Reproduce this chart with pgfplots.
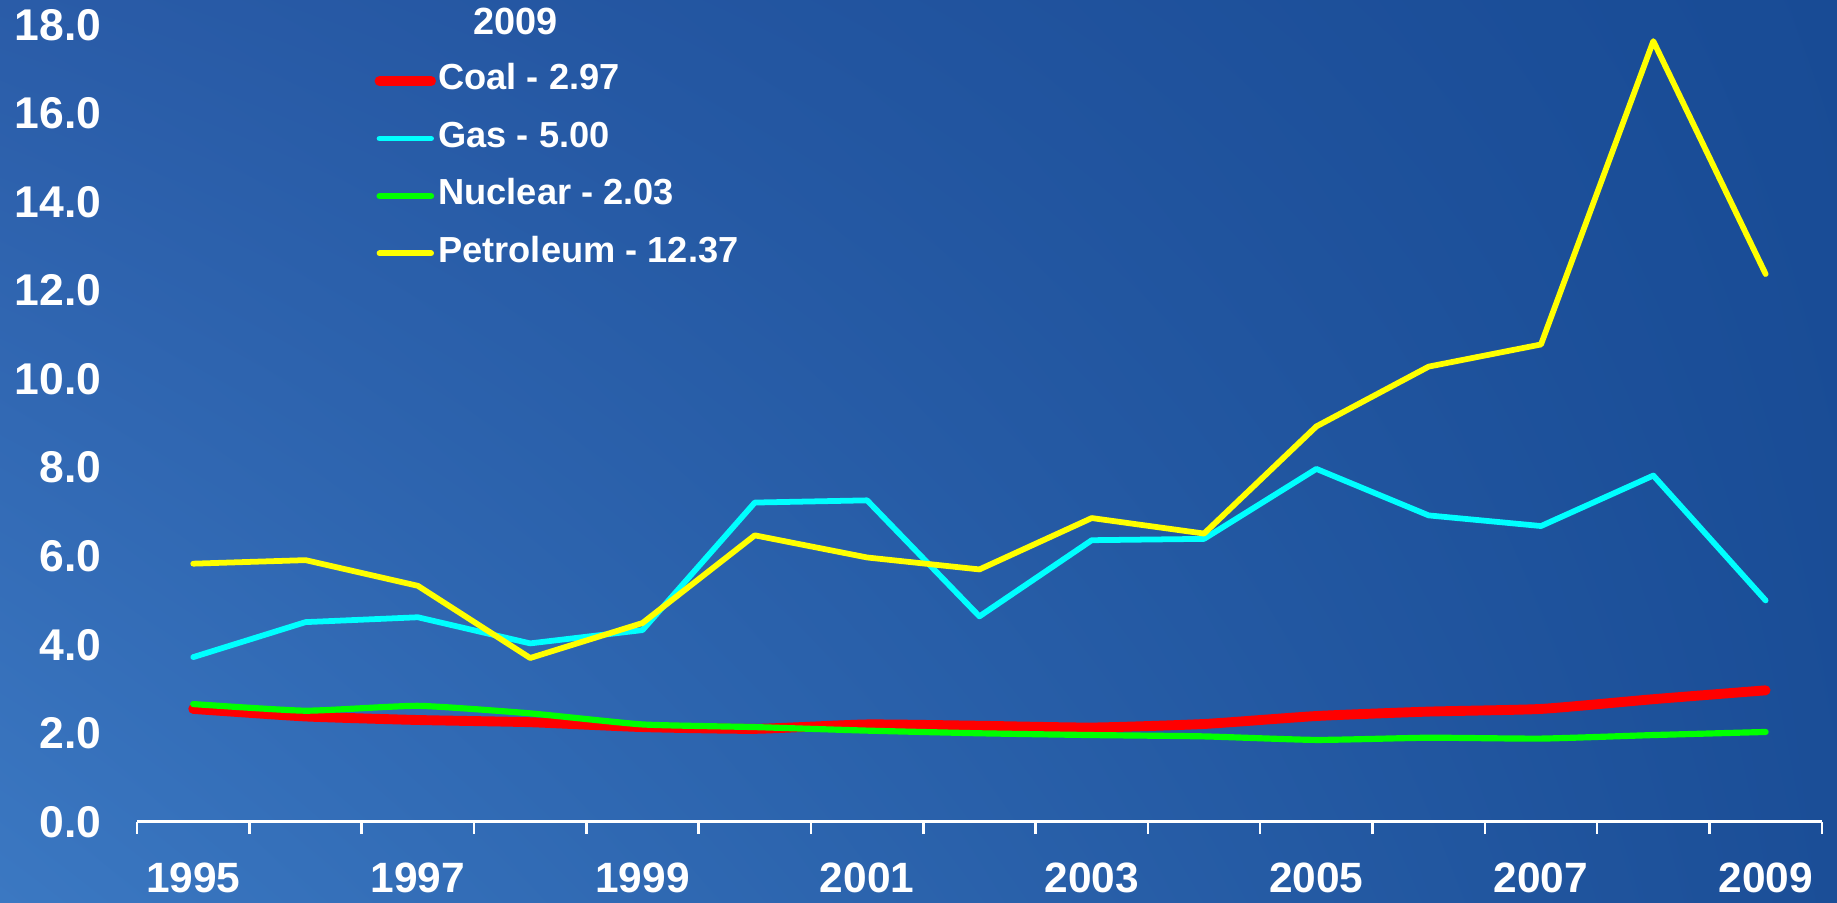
\documentclass[border=0pt]{standalone}
\usepackage{pgfplots}
\pgfplotsset{compat=1.18}
\usetikzlibrary{shadings}
\usepackage{fontspec}
\setmainfont{Liberation Sans}
\definecolor{bgUL}{HTML}{2A5CA8}
\definecolor{bgUR}{HTML}{184B95}
\definecolor{bgLL}{HTML}{3B78C2}
\definecolor{bgLR}{HTML}{1B4E97}
\definecolor{cCoal}{HTML}{FF0000}
\definecolor{cGas}{HTML}{00FFFF}
\definecolor{cNuc}{HTML}{00FF00}
\definecolor{cPet}{HTML}{FFFF00}
\begin{document}
\begin{tikzpicture}
\shade[upper left=bgUL, upper right=bgUR, lower left=bgLL, lower right=bgLR, use as bounding box] (0,0) rectangle (15.68,7.70);
\begin{axis}[
  at={(1.17cm,0.685cm)}, anchor=south west,
  scale only axis, width=14.38cm, height=6.804cm,
  xmin=-0.5, xmax=14.5, ymin=0, ymax=18,
  clip=false,
  axis x line=bottom, axis y line=left,
  x axis line style={white, line width=0.75pt, -},
  y axis line style={draw=none},
  xtick={-0.5,0.5,...,14.5}, xticklabels={},
  x tick style={white, line width=0.6pt},
  tick align=outside, major tick length=0.1cm,
  extra x ticks={0,2,4,6,8,10,12,14},
  extra x tick labels={1995,1997,1999,2001,2003,2005,2007,2009},
  extra x tick style={major tick length=0pt, tick style={draw=none}, xticklabel style={yshift=-0.23cm}},
  ytick={0,2,...,18}, y tick style={draw=none},
  yticklabel style={xshift=-0.08cm, font=\fontsize{10.8}{12}\selectfont\bfseries, /pgf/number format/fixed, /pgf/number format/fixed zerofill, /pgf/number format/precision=1},
  tick label style={font=\fontsize{10.3}{12}\selectfont\bfseries, text=white},
  /pgf/number format/assume math mode=true,
  legend style={at={(0.1405,0.9663)}, anchor=north west, draw=none, fill=none, inner sep=0pt,
    text=white, font=\fontsize{8.8}{10}\selectfont\bfseries, cells={anchor=west},
    nodes={inner sep=0pt, text height=0.32cm, text depth=0.17cm},
    /tikz/every odd column/.append style={column sep=0.02cm}},
  legend image code/.code={\draw[#1] (0.02cm,0cm) -- (0.46cm,0cm);},
  every axis plot/.append style={line join=round, line cap=round},
]
\addplot[cCoal, line width=2.4pt, smooth, tension=0.3] coordinates {(0,2.55)(1,2.38)(2,2.30)(3,2.25)(4,2.14)(5,2.10)(6,2.20)(7,2.17)(8,2.13)(9,2.21)(10,2.39)(11,2.49)(12,2.55)(13,2.77)(14,2.97)};
\addlegendentry{Coal - 2.97}
\addplot[cGas, line width=1.4pt] coordinates {(0,3.72)(1,4.51)(2,4.62)(3,4.03)(4,4.33)(5,7.21)(6,7.26)(7,4.64)(8,6.36)(9,6.39)(10,7.97)(11,6.92)(12,6.68)(13,7.82)(14,5.00)};
\addlegendentry{Gas - 5.00}
\addplot[cNuc, line width=1.5pt, smooth, tension=0.3] coordinates {(0,2.66)(1,2.51)(2,2.62)(3,2.45)(4,2.20)(5,2.14)(6,2.06)(7,2.00)(8,1.96)(9,1.93)(10,1.85)(11,1.90)(12,1.88)(13,1.96)(14,2.03)};
\addlegendentry{Nuclear - 2.03}
\addplot[cPet, line width=1.4pt] coordinates {(0,5.83)(1,5.91)(2,5.33)(3,3.70)(4,4.49)(5,6.47)(6,5.97)(7,5.70)(8,6.86)(9,6.51)(10,8.93)(11,10.28)(12,10.78)(13,17.63)(14,12.37)};
\addlegendentry{Petroleum - 12.37}
\node[text=white, font=\fontsize{9.2}{11}\selectfont\bfseries] at (axis cs:2.87,18.08) {2009};
\end{axis}
\end{tikzpicture}
\end{document}
